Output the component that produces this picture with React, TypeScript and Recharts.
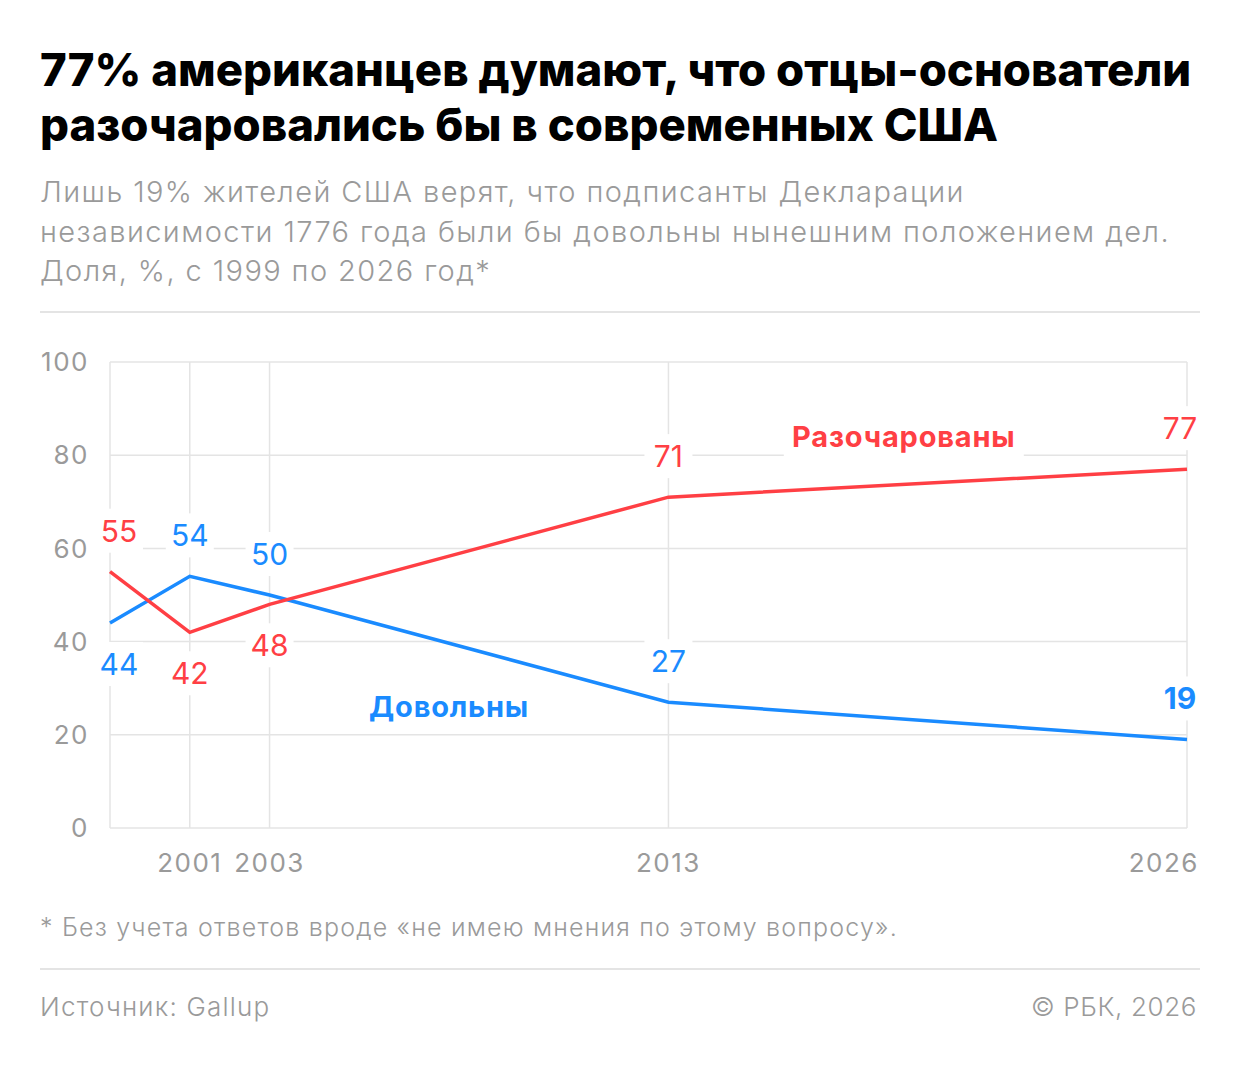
import { useEffect } from 'react';
import {
  LineChart,
  Line,
  XAxis,
  YAxis,
  CartesianGrid,
  LabelList,
  ReferenceDot,
} from 'recharts';

const years = [1999, 2001, 2003, 2013, 2026];
const disappointed = [55, 42, 48, 71, 77];
const satisfied = [44, 54, 50, 27, 19];
const yTicks = [0, 20, 40, 60, 80, 100];
const xTicks = [1999, 2001, 2003, 2013, 2026];

// label side per point: 1 = above the point, -1 = below
const redSide = [1, -1, -1, 1, 1];
const blueSide = [-1, 1, 1, 1, 1];

const RED = '#FF3F44';
const BLUE = '#1A8BFF';
const GREY = '#9a9a9a';
const GRID = '#e4e4e4';
const FONT = 'Inter, Roboto, "Noto Sans", sans-serif';

const data = years.map((year, i) => ({
  year,
  disappointed: disappointed[i],
  satisfied: satisfied[i],
}));

function makeLabel(color: string, sides: number[]) {
  return (props: any) => {
    const { x, y, value, index } = props;
    const last = index === years.length - 1;
    const dx = index === 0 ? 9 : last ? -7 : 0;
    const cy = y - sides[index] * 41;
    const bold = last && color === BLUE;
    const w = String(value).length * 18 + 12;
    return (
      <g>
        <rect x={x + dx - w / 2} y={cy - 22} width={w} height={44} fill="#fff" />
        <text
          x={x + dx}
          y={cy}
          textAnchor="middle"
          dominantBaseline="central"
          fill={color}
          fontSize={30}
          fontWeight={bold ? 700 : 400}
          fontFamily={FONT}
        >
          {value}
        </text>
      </g>
    );
  };
}

function SeriesName(props: any) {
  const { viewBox, text, color, width } = props;
  const cx = viewBox.x;
  const cy = viewBox.y;
  return (
    <g>
      <rect x={cx - width / 2 - 6} y={cy - 22} width={width + 12} height={44} fill="#fff" />
      <text
        x={cx}
        y={cy}
        textAnchor="middle"
        dominantBaseline="central"
        fill={color}
        fontSize={29}
        fontWeight={700}
        letterSpacing={0.8}
        fontFamily={FONT}
      >
        {text}
      </text>
    </g>
  );
}

function XTick(props: any) {
  const { x, y, payload, index } = props;
  if (payload.value === 1999) return null;
  const last = payload.value === 2026;
  return (
    <text
      x={last ? x + 12 : x}
      y={y + 26}
      textAnchor={last ? 'end' : 'middle'}
      dominantBaseline="central"
      fill={GREY}
      fontSize={26}
      letterSpacing={1.5}
      fontFamily={FONT}
      key={index}
    >
      {payload.value}
    </text>
  );
}

export default function App() {
  useEffect(() => {
    document.body.style.margin = '0';
  }, []);

  return (
    <div
      style={{
        width: 1240,
        height: 1066,
        background: '#fff',
        position: 'relative',
        fontFamily: FONT,
        overflow: 'hidden',
      }}
    >
      <div
        style={{
          position: 'absolute',
          left: 40,
          top: 42,
          fontSize: 45.5,
          fontWeight: 800,
          lineHeight: '55px',
          color: '#000',
          whiteSpace: 'nowrap',
        }}
      >
        77% американцев думают, что отцы-основатели
        <br />
        разочаровались бы в современных США
      </div>
      <div
        style={{
          position: 'absolute',
          left: 40,
          top: 172,
          fontSize: 29,
          fontWeight: 300,
          lineHeight: '39.5px',
          letterSpacing: 1.4,
          color: GREY,
          whiteSpace: 'nowrap',
        }}
      >
        Лишь 19% жителей США верят, что подписанты Декларации
        <br />
        независимости 1776 года были бы довольны нынешним положением дел.
        <br />
        Доля, %, с 1999 по 2026 год*
      </div>
      <div style={{ position: 'absolute', left: 40, top: 311, width: 1160, height: 2, background: GRID }} />

      <div style={{ position: 'absolute', left: 0, top: 330 }}>
        <LineChart width={1240} height={560} data={data} margin={{ top: 32, right: 53, bottom: 22, left: 0 }}>
          <CartesianGrid stroke={GRID} strokeWidth={1.5} />
          <XAxis
            dataKey="year"
            type="number"
            domain={[1999, 2026]}
            ticks={xTicks}
            axisLine={false}
            tickLine={false}
            tick={<XTick />}
            height={40}
            interval={0}
          />
          <YAxis
            domain={[0, 100]}
            ticks={yTicks}
            axisLine={false}
            tickLine={false}
            tickSize={0}
            tickMargin={21}
            width={110}
            tick={{ fill: GREY, fontSize: 26, fontFamily: FONT, letterSpacing: 1.5 }}
          />
          <Line
            dataKey="satisfied"
            stroke={BLUE}
            strokeWidth={3.5}
            dot={false}
            isAnimationActive={false}
          >
            <LabelList dataKey="satisfied" content={makeLabel(BLUE, blueSide)} />
          </Line>
          <Line
            dataKey="disappointed"
            stroke={RED}
            strokeWidth={3.5}
            dot={false}
            isAnimationActive={false}
          >
            <LabelList dataKey="disappointed" content={makeLabel(RED, redSide)} />
          </Line>
          <ReferenceDot
            x={2018.9}
            y={84}
            r={0}
            label={<SeriesName text="Разочарованы" color={RED} width={228} />}
          />
          <ReferenceDot
            x={2007.5}
            y={26}
            r={0}
            label={<SeriesName text="Довольны" color={BLUE} width={158} />}
          />
        </LineChart>
      </div>

      <div
        style={{
          position: 'absolute',
          left: 40,
          top: 912,
          fontSize: 25,
          letterSpacing: 1.2,
          color: GREY,
          fontWeight: 300,
          whiteSpace: 'nowrap',
        }}
      >
        * Без учета ответов вроде «не имею мнения по этому вопросу».
      </div>
      <div style={{ position: 'absolute', left: 40, top: 968, width: 1160, height: 2, background: GRID }} />
      <div style={{ position: 'absolute', left: 40, top: 991, fontSize: 26, letterSpacing: 1.2, color: GREY, fontWeight: 300 }}>
        Источник: Gallup
      </div>
      <div style={{ position: 'absolute', right: 43, top: 991, fontSize: 26, letterSpacing: 0.6, color: GREY, fontWeight: 300 }}>
        © РБК, 2026
      </div>
    </div>
  );
}
